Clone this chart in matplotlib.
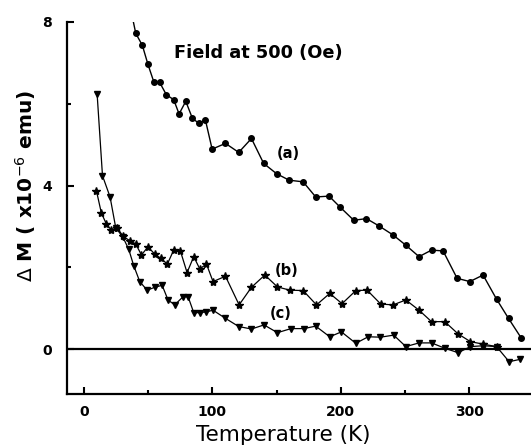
import numpy as np
import matplotlib
matplotlib.use('Agg')
import matplotlib.pyplot as plt
from matplotlib.ticker import MultipleLocator

# (a) circles
Ta = [34, 40.5, 45.6, 50, 54.7, 59.1, 64.3, 70, 74.2, 79.4, 84.6, 89.7, 94.7,
      99.9, 110.3, 120.6, 130.5, 140, 150, 159.8, 170.7, 180.5, 190.9, 199.2,
      210.1, 220, 229.8, 240.7, 250.6, 260.9, 270.6, 279.6, 290.5, 300.4,
      310.7, 321.2, 330.5, 340.6]
Ma = [8.7, 7.72, 7.43, 6.96, 6.52, 6.52, 6.22, 6.1, 5.75, 6.06, 5.64, 5.52, 5.6,
      4.89, 5.03, 4.81, 5.15, 4.54, 4.29, 4.13, 4.09, 3.72, 3.74, 3.48,
      3.15, 3.19, 3.01, 2.79, 2.54, 2.26, 2.42, 2.40, 1.73, 1.65,
      1.81, 1.22, 0.75, 0.26]

# (b) stars
Tb = [9.9, 13.7, 17.6, 21.5, 25.9, 30.6, 35.8, 40.5, 44.9, 50, 55.3, 59.9,
      65.1, 70, 75.2, 80.4, 85.6, 90.3, 95.5, 100.6, 110.3, 120.9, 130.5,
      140.9, 150.7, 160.3, 170.7, 181.1, 191.4, 201, 211.7, 220.5, 231.1,
      240.7, 250.6, 260.9, 270.6, 280.9, 291.3, 300.9, 310.7, 321.2]
Mb = [3.87, 3.33, 3.06, 2.91, 2.97, 2.76, 2.65, 2.57, 2.30, 2.5, 2.32, 2.22,
      2.08, 2.42, 2.40, 1.87, 2.26, 1.96, 2.08, 1.65, 1.78, 1.08, 1.51,
      1.81, 1.52, 1.44, 1.43, 1.08, 1.36, 1.11, 1.43, 1.44, 1.10,
      1.08, 1.2, 0.95, 0.67, 0.67, 0.37, 0.18, 0.12, 0.06]

# (c) triangles
Tc = [10.4, 14.6, 20.5, 24.9, 30.6, 35, 38.9, 43.6, 49.3, 55.3, 61, 65.6,
      70.8, 77.3, 81.2, 85.6, 90.3, 95.5, 100.6, 110.3, 120.6, 130.5, 140.3,
      150.7, 161.3, 171.3, 180.5, 191.4, 200.5, 211.7, 221.3, 230.9, 241.2,
      250.6, 260.9, 270.6, 280.9, 291.3, 300.9, 310.7, 321.2, 331, 339.8]
Mc = [6.25, 4.24, 3.72, 2.97, 2.73, 2.44, 2.04, 1.65, 1.44, 1.51, 1.56, 1.2,
      1.08, 1.28, 1.28, 0.89, 0.89, 0.91, 0.95, 0.75, 0.55, 0.49, 0.59,
      0.40, 0.50, 0.50, 0.56, 0.30, 0.42, 0.14, 0.30, 0.29, 0.34,
      0.06, 0.15, 0.15, 0.02, -0.09, 0.06, 0.08, 0.06, -0.31, -0.25]

fig = plt.figure(figsize=(5.31, 4.45), dpi=100)
ax = fig.add_axes([0.1262, 0.1146, 0.8738, 0.836])

ax.plot(Ta, Ma, color='black', lw=1.0, marker='o', ms=4)
ax.plot(Tb, Mb, color='black', lw=0.9, marker='*', ms=6)
ax.plot(Tc, Mc, color='black', lw=0.9, marker='v', ms=4.5)

ax.axhline(0, color='black', lw=1.6)

ax.text(159.5, 4.79, '(a)', fontsize=10.5, fontweight='bold', ha='center', va='center')
ax.text(157.9, 1.91, '(b)', fontsize=10.5, fontweight='bold', ha='center', va='center')
ax.text(153.3, 0.88, '(c)', fontsize=10.5, fontweight='bold', ha='center', va='center')
ax.text(70, 7.24, 'Field at 500 (Oe)', fontsize=12.8, fontweight='bold', ha='left', va='center')

ax.set_xlim(-13, 348)
ax.set_ylim(-1.1, 8)
ax.xaxis.set_major_locator(MultipleLocator(100))
ax.xaxis.set_minor_locator(MultipleLocator(50))
ax.yaxis.set_major_locator(MultipleLocator(4))
ax.yaxis.set_minor_locator(MultipleLocator(2))
ax.tick_params(which='major', direction='in', length=5, width=1.5, labelsize=10)
ax.tick_params(axis='y', pad=11)
ax.tick_params(axis='x', pad=8)
ax.tick_params(which='minor', direction='in', length=3, width=1.5)
for lab in ax.get_xticklabels() + ax.get_yticklabels():
    lab.set_fontweight('bold')

for s in ['top', 'right']:
    ax.spines[s].set_visible(False)
for s in ['left', 'bottom']:
    ax.spines[s].set_linewidth(1.6)

ax.set_xlabel('Temperature (K)', fontsize=15.5)
ax.xaxis.set_label_coords(0.466, -0.082)
ax.set_ylabel(r'$\Delta$ M ( x10$^{-6}$ emu)', fontsize=14.5, fontweight='bold')
ax.yaxis.set_label_coords(-0.062, 0.56)

fig.savefig('out.png', dpi=100)
